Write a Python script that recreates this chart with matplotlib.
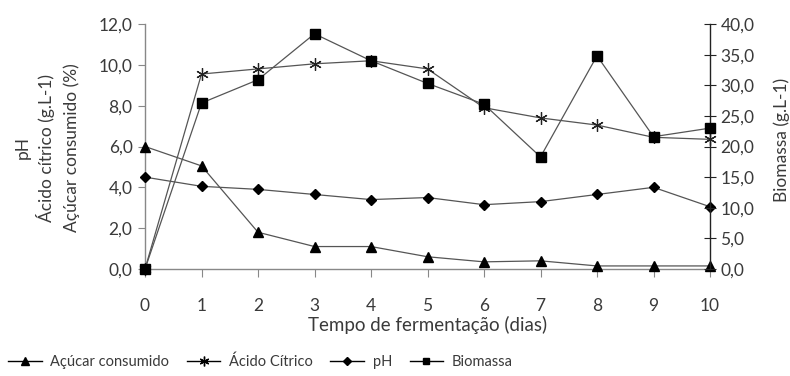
import matplotlib
matplotlib.use("Agg")
import matplotlib.pyplot as plt
from matplotlib.lines import Line2D

plt.rcParams['font.family'] = ['Lato', 'DejaVu Sans']

dias = [0, 1, 2, 3, 4, 5, 6, 7, 8, 9, 10]
acucar = [6.0, 5.05, 1.8, 1.1, 1.1, 0.6, 0.35, 0.4, 0.15, 0.15, 0.15]
acido = [0.0, 9.55, 9.8, 10.05, 10.2, 9.8, 7.9, 7.4, 7.05, 6.45, 6.35]
ph = [4.5, 4.05, 3.9, 3.65, 3.4, 3.5, 3.15, 3.3, 3.65, 4.0, 3.05]
biomassa = [0.0, 27.1, 30.9, 38.4, 34.0, 30.3, 26.9, 18.3, 34.8, 21.6, 23.0]

left_ticks = [0, 2, 4, 6, 8, 10, 12]
left_labels = ["0,0", "2,0", "4,0", "6,0", "8,0", "10,0", "12,0"]
right_ticks = [0, 5, 10, 15, 20, 25, 30, 35, 40]
right_labels = ["0,0", "5,0", "10,0", "15,0", "20,0", "25,0", "30,0", "35,0", "40,0"]

TXT = '#3a3a3a'
LINE = '#555555'
FS = 12.5

fig = plt.figure(figsize=(7.9, 3.76), dpi=100)
ax = fig.add_axes([145/790, 1-269/376, (710-145)/790, (269-24)/376])
ax2 = ax.twinx()

lw = 0.9
ax.plot(dias, acucar, color=LINE, lw=lw, marker='^', ms=7.5, mfc='black', mec='black', clip_on=False, zorder=3)
ax.plot(dias, acido, color=LINE, lw=lw, marker=(6, 2, 0), ms=9, mfc='black', mec='#222222', mew=0.9, clip_on=False, zorder=3)
ax.plot(dias, ph, color=LINE, lw=lw, marker='D', ms=5.5, mfc='black', mec='black', clip_on=False, zorder=3)
ax2.plot(dias, biomassa, color=LINE, lw=lw, marker='s', ms=7.5, mfc='black', mec='black', clip_on=False, zorder=3)

ax.set_xlim(0, 10)
ax.set_ylim(0, 12)
ax2.set_ylim(0, 40)
ax.set_xticks(dias)
ax.set_xticklabels([str(d) for d in dias])
ax.set_yticks(left_ticks)
ax.set_yticklabels(left_labels)
ax2.set_yticks(right_ticks)
ax2.set_yticklabels(right_labels)

for a in (ax, ax2):
    a.spines['top'].set_visible(False)
    for s in a.spines.values():
        s.set_color('#888888')
        s.set_linewidth(1.0)
ax2.spines['left'].set_visible(False)
ax2.spines['bottom'].set_visible(False)
ax.spines['right'].set_visible(False)
ax2.spines['right'].set_color('#222222')

ax.tick_params(axis='x', direction='out', length=6, pad=15, colors='#888888', labelcolor=TXT, labelsize=FS)
ax.tick_params(axis='y', direction='out', length=5, pad=4, colors='#888888', labelcolor=TXT, labelsize=FS)
ax2.tick_params(axis='y', direction='inout', length=9, pad=3, colors='#222222', labelcolor=TXT, labelsize=FS)

ax.set_xlabel("Tempo de fermentação (dias)", color=TXT, fontsize=13.5, labelpad=1)

yc = 1 - 148/376
fig.text(23/790, yc, "pH", rotation=90, ha='center', va='center', color=TXT, fontsize=FS)
fig.text(46/790, yc, "Ácido cítrico (g.L-1)", rotation=90, ha='center', va='center', color=TXT, fontsize=FS)
fig.text(72/790, yc, "Açúcar consumido (%)", rotation=90, ha='center', va='center', color=TXT, fontsize=FS)
fig.text(782/790, 1 - 140/376, "Biomassa (g.L-1)", rotation=90, ha='center', va='center', color=TXT, fontsize=FS)

handles = [
    Line2D([], [], color='black', lw=1, marker='^', ms=6, mfc='black', mec='black'),
    Line2D([], [], color='black', lw=1, marker=(6, 2, 0), ms=7, mfc='black', mec='black'),
    Line2D([], [], color='black', lw=1, marker='D', ms=4, mfc='black', mec='black'),
    Line2D([], [], color='black', lw=1, marker='s', ms=5, mfc='black', mec='black'),
]
labels = ["Açúcar consumido", "Ácido Cítrico", "pH", "Biomassa"]
fig.legend(handles, labels, loc='center left', bbox_to_anchor=(8/790, 1 - 362/376), ncol=4,
           frameon=False, fontsize=10.5, labelcolor=TXT, handlelength=2.3, handletextpad=0.6,
           columnspacing=1.2, borderaxespad=0.0, borderpad=0.0)

fig.savefig("out.png", dpi=100)
